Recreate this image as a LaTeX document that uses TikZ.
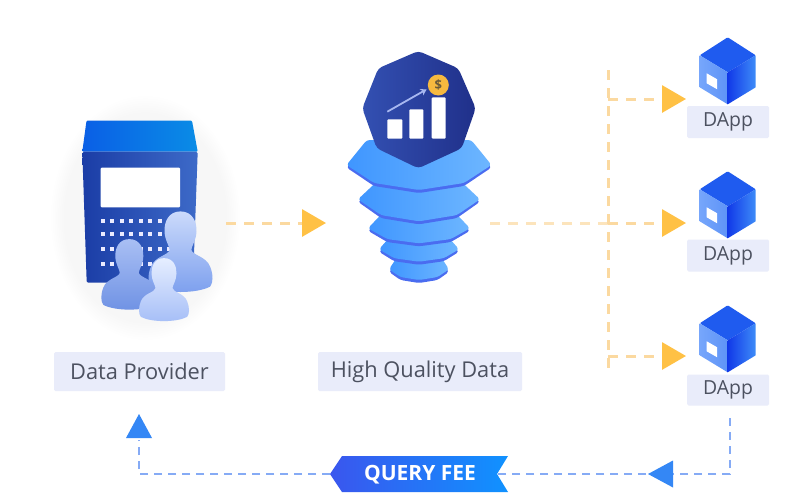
\documentclass[tikz,border=0pt]{standalone}
\usepackage{fontspec}
\setmainfont{Open Sans}
\usetikzlibrary{arrows.meta,fadings}
\definecolor{lab}{HTML}{E9ECFA}
\definecolor{labt}{HTML}{4C5160}
\definecolor{orangeD}{HTML}{FBD9A0}
\definecolor{orangeT}{HTML}{FFC145}
\definecolor{blueD}{HTML}{86ABF5}
\definecolor{blueT}{HTML}{3487F5}
\definecolor{bTopL}{HTML}{0A5FE6}
\definecolor{bTopR}{HTML}{0A8CE6}
\definecolor{bBodyL}{HTML}{1B3DA6}
\definecolor{bBodyR}{HTML}{3D6AC8}
\definecolor{pAt}{HTML}{A9BFF4}
\definecolor{pAb}{HTML}{6F92E4}
\definecolor{pBt}{HTML}{CBDAFB}
\definecolor{pBb}{HTML}{7C9FEE}
\definecolor{pCt}{HTML}{E6EEFF}
\definecolor{pCb}{HTML}{A6BEF7}
\definecolor{octL}{HTML}{3350B2}
\definecolor{octR}{HTML}{20308A}
\definecolor{layL}{HTML}{3F96FF}
\definecolor{layR}{HTML}{6DB6FF}
\definecolor{layE}{HTML}{4A6CF0}
\definecolor{cubeTop}{HTML}{1F5BEF}
\definecolor{cubeLa}{HTML}{76A6FB}
\definecolor{cubeLb}{HTML}{5E93F7}
\definecolor{cubeRa}{HTML}{1139E8}
\definecolor{cubeRb}{HTML}{3E8CF8}
\definecolor{feeL}{HTML}{3A56EE}
\definecolor{feeR}{HTML}{1092FF}
\definecolor{arrowL}{HTML}{A7B7F0}
\definecolor{coin}{HTML}{F6B93F}
\definecolor{coinT}{HTML}{6A5A3A}
\tikzset{
  x=1pt,y=-1pt,
  labelbox/.style={fill=lab,rounded corners=1.5pt,inner sep=0pt,text=labt,anchor=center},
  biglabel/.style={labelbox,font=\fontsize{21.8}{24}\selectfont,minimum height=39pt},
  dapplabel/.style={labelbox,font=\fontsize{19.4}{24}\selectfont,minimum width=82pt},
  dashO/.style={draw=orangeD,line width=3pt,dash pattern=on 10pt off 8pt},
  dashB/.style={draw=blueD,line width=2.8pt,dash pattern=on 8pt off 6pt},
  tipO/.style={-{Triangle[length=24pt,width=27pt,color=orangeT]}},
  softshadow/.style={fill=black,opacity=.03,path fading=circle with fuzzy edge 15 percent}
}
\newcommand{\lay}[4]{% cy halfw top bot
  \fill[layE,rounded corners=3pt] (419-#2,#1+2.5) -- (419-#2*.72,#1-#3+3) -- (419+#2*.72,#1-#3+3) -- (419+#2,#1+2.5) -- (419+#2*.62,#1+#4*.72+3) -- (419,#1+#4+3) -- (419-#2*.62,#1+#4*.72+3) -- cycle;
  \shade[left color=layL,right color=layR,rounded corners=3pt] (419-#2,#1) -- (419-#2*.72,#1-#3) -- (419+#2*.72,#1-#3) -- (419+#2,#1) -- (419+#2*.62,#1+#4*.72) -- (419,#1+#4) -- (419-#2*.62,#1+#4*.72) -- cycle;
}
\newcommand{\cube}[2]{%
  \begin{scope}[shift={(#1,#2)}]
    \fill[cubeTop,rounded corners=1pt] (0,-35) -- (28,-17) -- (0,0) -- (-28,-17) -- cycle;
    \shade[left color=cubeLa,right color=cubeLb] (-28,-17) -- (0,0) -- (0,32) -- (-28,15) -- cycle;
    \shade[left color=cubeRa,right color=cubeRb] (28,-17) -- (0,0) -- (0,32) -- (28,15) -- cycle;
    \fill[white] (-21,1) -- (-10.5,7) -- (-10.5,17) -- (-21,11) -- cycle;
  \end{scope}
}
\newcommand{\person}[5]{% cx cy unit topcol botcol
  \begin{scope}[shift={(#1,#2)},scale=#3]
    \shade[top color=#4,bottom color=#5] (0,-1.35)
      .. controls (.75,-1.35) and (1.02,-.7) .. (1,-.1)
      .. controls (.98,.45) and (.7,.8) .. (.68,1.05)
      .. controls (.75,1.4) and (1.6,1.45) .. (1.85,2.1)
      .. controls (2.05,2.6) and (2.05,3.1) .. (1.85,3.35)
      .. controls (1,3.8) and (-1,3.8) .. (-1.85,3.35)
      .. controls (-2.05,3.1) and (-2.05,2.6) .. (-1.85,2.1)
      .. controls (-1.6,1.45) and (-.75,1.4) .. (-.68,1.05)
      .. controls (-.7,.8) and (-.98,.45) .. (-1,-.1)
      .. controls (-1.02,-.7) and (-.75,-1.35) .. (0,-1.35) -- cycle;
  \end{scope}
}
\newcommand{\low}[1]{\raisebox{-1.5pt}{#1}}
\begin{document}
\begin{tikzpicture}
\useasboundingbox (0,0) rectangle (800,501);
\fill[white] (0,0) rectangle (800,501);

% soft shadows
\fill[softshadow] (50,95) rectangle (240,340);

% ---- data provider icon
\shade[left color=bTopL,right color=bTopR,rounded corners=1pt] (86.5,120.7) -- (192,120.7) -- (197.7,151.7) -- (82.3,151.7) -- cycle;
\shade[left color=bBodyL,right color=bBodyR,rounded corners=1.5pt] (82.3,151.7) -- (197.7,151.7) -- (193,282) -- (86.7,282.7) -- cycle;
\fill[white,rounded corners=1pt] (100.7,167.7) rectangle (180,207.3);
\foreach \yy in {220.7,234,249.3,264.3}
  \foreach \i in {0,...,7}
    \fill[white!92!blue] ({102.7+9.5*\i-2},\yy-2) rectangle ++(4,4);
\person{180.5}{233}{16}{pBt}{pBb}
\person{129.3}{258}{14}{pAt}{pAb}
\person{164}{275}{12.5}{pCt}{pCb}

% ---- data stack
\lay{269.3}{30}{12.7}{10.7}
\lay{249.3}{40}{12.7}{12.4}
\lay{228.3}{51}{15}{15}
\lay{199.3}{61}{16}{22}
\lay{165}{72.5}{25}{25}
\shade[left color=octL,right color=octR,rounded corners=4pt] (418.3,51) -- (458.3,68.3) -- (475.7,108.3) -- (461.7,148.3) -- (418.3,168.3) -- (376.7,148.3) -- (362.3,108.3) -- (378.3,68.3) -- cycle;
\fill[white,rounded corners=1pt] (387.3,119.3) rectangle (402.3,138.7);
\fill[white,rounded corners=1pt] (409.3,109.3) rectangle (423.3,138.7);
\fill[white,rounded corners=1pt] (431.7,97.3) rectangle (445.7,138.7);
\draw[arrowL,line width=1.8pt,-{Stealth[length=6pt,width=7pt]}] (387.3,111.7) -- (426.7,89.3);
\node[circle,fill=coin,minimum size=21pt,inner sep=0pt,text=coinT,font=\bfseries\fontsize{13}{13}\selectfont] (coinmark) at (438.3,85) {\$};

% ---- cubes
\cube{727.7}{72.3}
\cube{727.7}{206.3}
\cube{727.7}{340.3}

% ---- labels
\node[biglabel,minimum width=171pt] (provider) at (139.5,371.5) {\low{Data Provider}};
\node[biglabel,minimum width=204pt] (quality) at (420,371.5) {\low{High Quality Data}};
\node[dapplabel,minimum height=32pt] (dappA) at (728,122) {\low{DApp}};
\node[dapplabel,minimum height=32pt] (dappB) at (728,255.5) {\low{DApp}};
\node[dapplabel,minimum height=31pt] (dappC) at (728,390) {\low{DApp}};

% ---- orange connectors
\coordinate (pOut) at (226,223);
\coordinate (stackIn) at (326,223);
\coordinate (stackOut) at (490,223);
\coordinate (spineTop) at (608,70);
\coordinate (spineBot) at (608,370);
\coordinate (branchA) at (608,99);
\coordinate (branchB) at (608,223);
\coordinate (branchC) at (608,356);
\coordinate (tipA) at (686,99);
\coordinate (tipB) at (686,223);
\coordinate (tipC) at (686,356);
\draw[dashO,tipO] (pOut) -- (stackIn);
\draw[dashO,opacity=.7] (stackOut) -- (branchB);
\draw[dashO] (spineTop) -- (spineBot);
\draw[dashO,tipO] (branchA) -- (tipA);
\draw[dashO,tipO] (branchB) -- (tipB);
\draw[dashO,tipO] (branchC) -- (tipC);

% ---- blue connectors
\coordinate (dappDown) at (730,418);
\coordinate (cornerR) at (730,474);
\coordinate (cornerL) at (139,474);
\coordinate (upBase) at (139,440);
\coordinate (feeLeft) at (330,474);
\coordinate (feeRight) at (497,474);
\draw[dashB] (dappDown) -- (cornerR) -- (feeRight);
\draw[dashB] (feeLeft) -- (cornerL) -- (upBase);
\fill[blueT] (648,474) -- (673,460.5) -- (673,487.5) -- cycle;
\fill[blueT] (139,414) -- (126,438) -- (152,438) -- cycle;

% ---- fee badge
\shade[left color=feeL,right color=feeR] (330,474) -- (342,456) -- (508,456) -- (497,474) -- (508,492) -- (342,492) -- cycle;
\node[text=white,inner sep=0pt,font=\bfseries\fontsize{21}{22}\selectfont] (fee) at (420,474.5) {QUERY FEE};
\end{tikzpicture}
\end{document}
